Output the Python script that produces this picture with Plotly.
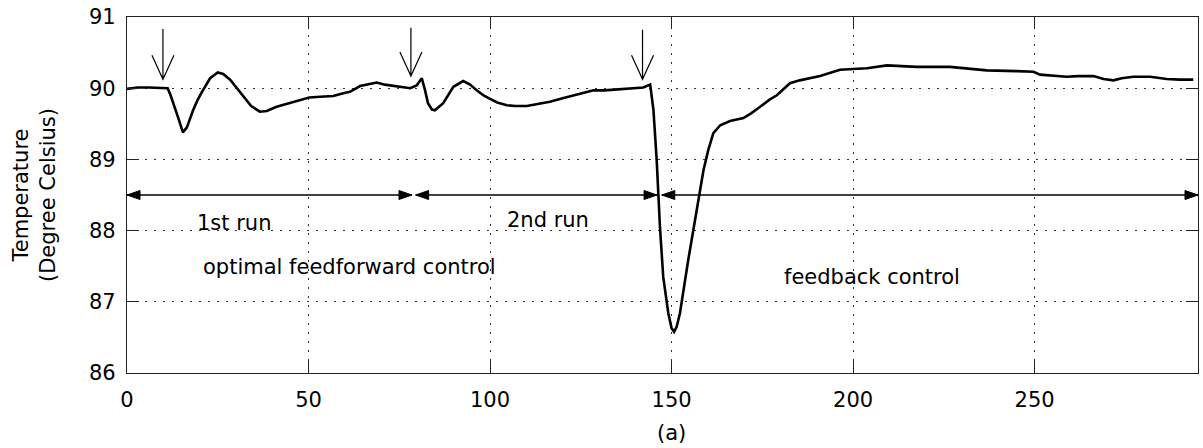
import plotly.graph_objects as go

# ---- data ----
time_s = [0, 3, 6, 9, 11.2, 12.0, 12.8, 14.0, 15.4, 16.5, 18.2, 19.5, 20.9, 22.9, 25.0, 26.5,
          28.4, 30.2, 32.0, 34.2, 36.6, 38.5, 41.2, 44, 46.7, 50.2, 53.2, 56.8, 59.6, 61.4,
          64.2, 66.5, 68.8, 71, 73.4, 75.5, 78.0, 79.8, 81.2, 82.1, 82.9, 84.0, 84.8, 87.1,
          89.9, 92.6, 94.5, 96.3, 98.2, 100, 102, 104.6, 107, 110.1, 113, 116.5, 120, 123,
          126, 128.5, 131.5, 134.9, 138.5, 142.2, 144.1, 145.0, 145.9, 146.8, 147.7, 149.1,
          150.0, 150.7, 151.4, 152.3, 154.6, 156.9, 158.8, 160.1, 161.5, 163.4, 166.1, 169.8,
          172, 174.4, 177, 179, 182.6, 185.3, 190.9, 196.4, 203.8, 209.3, 217.5, 226.7, 231.3,
          236.8, 245.1, 249.7, 251.5, 258.8, 262, 266.2, 269, 271.7, 274, 277.2, 281.8, 286.4,
          290, 293.7]
temperature = [89.99, 90.01, 90.01, 90.01, 90.0, 89.9, 89.79, 89.6, 89.38, 89.45, 89.69, 89.84,
               89.97, 90.14, 90.22, 90.2, 90.12, 90.0, 89.88, 89.75, 89.67, 89.68, 89.74, 89.78,
               89.82, 89.87, 89.88, 89.89, 89.93, 89.95, 90.03, 90.06, 90.08, 90.05, 90.03,
               90.02, 90.0, 90.04, 90.14, 89.97, 89.79, 89.70, 89.69, 89.79, 90.02, 90.1, 90.05,
               89.97, 89.9, 89.85, 89.8, 89.76, 89.75, 89.75, 89.78, 89.81, 89.86, 89.90, 89.94,
               89.97, 89.97, 89.98, 89.99, 90.01, 90.05, 89.7, 88.99, 88.05, 87.35, 86.84, 86.63,
               86.58, 86.65, 86.84, 87.59, 88.29, 88.85, 89.13, 89.37, 89.48, 89.54, 89.58, 89.65,
               89.74, 89.84, 89.9, 90.07, 90.11, 90.17, 90.26, 90.28, 90.32, 90.30, 90.30, 90.28,
               90.25, 90.24, 90.23, 90.19, 90.16, 90.17, 90.17, 90.13, 90.11, 90.14, 90.16, 90.16,
               90.13, 90.12, 90.12]

x_ticks = [0, 50, 100, 150, 200, 250]
y_ticks = [86, 87, 88, 89, 90, 91]
x_range = [0, 295]
y_range = [86, 91]

# event arrows (down arrows)
event_x = [9.9, 78.2, 142.0]
event_top = [90.83, 90.85, 90.82]
event_tip = [90.125, 90.17, 90.125]

# run spans (double arrows)
span_start = [0, 79.5, 147.3]
span_end = [78.5, 146.0, 295]
span_y = 88.5

labels = ["1st run", "optimal feedforward control", "2nd run", "feedback control"]
label_x = [29.5, 61.2, 116.0, 205.1]
label_y = [88.11, 87.49, 88.15, 87.35]

# ---- layout geometry ----
W, H = 1203, 448
ML, MR, MT, MB = 127, 5, 17, 75
px_x = (W - ML - MR) / (x_range[1] - x_range[0])
px_y = (H - MT - MB) / (y_range[1] - y_range[0])

FONT = "DejaVu Sans"
fig = go.Figure()
fig.add_trace(go.Scatter(x=time_s, y=temperature, mode="lines",
                         line=dict(color="black", width=2.6), showlegend=False,
                         hoverinfo="skip"))

shapes = []
# down arrows
wing_dx = 11 / px_x
wing_dy = 24 / px_y
for x, top, tip in zip(event_x, event_top, event_tip):
    path = (f"M {x},{top} L {x},{tip} "
            f"M {x - wing_dx},{tip + wing_dy} L {x},{tip} L {x + wing_dx},{tip + wing_dy}")
    shapes.append(dict(type="path", path=path, xref="x", yref="y",
                       line=dict(color="black", width=1.2)))

# double-headed span arrows
head_len = 13 / px_x
head_half = 4.5 / px_y
for a, b in zip(span_start, span_end):
    shapes.append(dict(type="line", x0=a, x1=b, y0=span_y, y1=span_y, xref="x", yref="y",
                       line=dict(color="black", width=1.3)))
    left = (f"M {a},{span_y} L {a + head_len},{span_y + head_half} "
            f"L {a + head_len},{span_y - head_half} Z")
    right = (f"M {b},{span_y} L {b - head_len},{span_y + head_half} "
             f"L {b - head_len},{span_y - head_half} Z")
    for p in (left, right):
        shapes.append(dict(type="path", path=p, xref="x", yref="y",
                           fillcolor="black", line=dict(color="black", width=1)))

annotations = []
for t, x, y in zip(labels, label_x, label_y):
    annotations.append(dict(text=t, x=x, y=y, xref="x", yref="y", showarrow=False,
                            font=dict(family=FONT, size=21, color="black"),
                            xanchor="center", yanchor="middle"))
annotations.append(dict(text="(a)", x=150, y=(H - MB - 433) / (H - MT - MB) * -1 * -1,
                        xref="x", yref="paper", showarrow=False,
                        font=dict(family=FONT, size=21, color="black"),
                        xanchor="center", yanchor="middle"))
annotations.append(dict(text="Temperature<br>(Degree Celsius)", x=(34 - ML) / (W - ML - MR),
                        y=0.5, xref="paper", yref="paper", showarrow=False, textangle=-90,
                        font=dict(family=FONT, size=21, color="black"),
                        xanchor="center", yanchor="middle"))

axis_common = dict(showline=True, linecolor="#222", linewidth=1.2, mirror="ticks",
                   ticks="inside", ticklen=12, tickwidth=1.2, tickcolor="#222",
                   showgrid=True, gridcolor="#333", gridwidth=1, griddash="2px,7px",
                   zeroline=False, tickfont=dict(family=FONT, size=21, color="black"))

fig.update_layout(
    width=W, height=H,
    margin=dict(l=ML, r=MR, t=MT, b=MB),
    paper_bgcolor="white", plot_bgcolor="white",
    xaxis=dict(range=x_range, tickvals=x_ticks, ticklabelstandoff=8, **axis_common),
    yaxis=dict(range=y_range, tickvals=y_ticks, ticklabelstandoff=6, **axis_common),
    shapes=shapes, annotations=annotations,
)
fig.write_html("out.html")
